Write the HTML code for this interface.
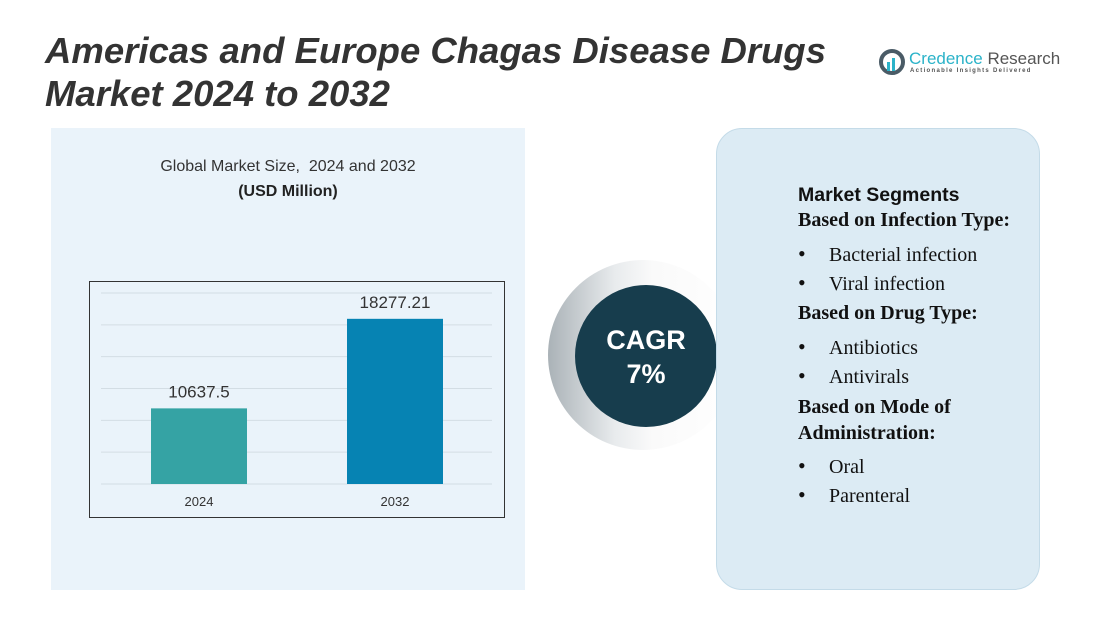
<!DOCTYPE html>
<html><head><meta charset="utf-8">
<style>
body{margin:0;width:1101px;height:637px;background:#fff;position:relative;overflow:hidden;font-family:"Liberation Sans",sans-serif}
.abs{position:absolute}
.seg{position:absolute;left:798px;font-family:"Liberation Serif",serif;font-size:20px;color:#111;white-space:nowrap;line-height:24px}
.b{font-weight:bold}
.li{left:798px}
.li span.dot{display:inline-block;width:31px;font-size:22px}
</style></head><body>
<div class="abs" style="left:45px;top:29px;font-size:36.5px;font-weight:bold;font-style:italic;color:#333;line-height:43px;white-space:nowrap">Americas and Europe Chagas Disease Drugs<br>Market 2024 to 2032</div>
<div class="abs" style="left:878px;top:46px;width:180px;height:32px">
 <svg width="30" height="30" class="abs" style="left:0;top:0"><circle cx="14" cy="16" r="11" fill="none" stroke="#4a5b66" stroke-width="4"/><rect x="9" y="16" width="3" height="9" fill="#2bb3c9"/><rect x="14" y="12" width="3" height="13" fill="#2bb3c9"/></svg>
 <div class="abs" style="left:31px;top:3px;font-size:17px;color:#555;white-space:nowrap"><span style="color:#2bb3c9">Credence</span> Research</div>
 <div class="abs" style="left:32px;top:22px;font-size:6px;letter-spacing:1.3px;color:#555;white-space:nowrap;font-weight:bold">Actionable Insights Delivered</div>
</div>
<div class="abs" style="left:51px;top:128px;width:474px;height:462px;background:#eaf3fa"></div>
<div class="abs" style="left:51px;top:158px;width:474px;text-align:center;font-size:16px;color:#333">Global Market Size,&nbsp; 2024 and 2032</div>
<div class="abs" style="left:51px;top:183px;width:474px;text-align:center;font-size:16px;font-weight:bold;color:#222">(USD Million)</div>
<svg class="abs" style="left:0;top:0" width="1101" height="637" id="chart">
 <rect x="89.5" y="281.5" width="415" height="236" fill="none" stroke="#333" stroke-width="1"/>
</svg>
<div class="abs" style="left:548px;top:260px;width:190px;height:190px;border-radius:50%;background:linear-gradient(90deg,#aab2b7,#e8ebed 35%,#fafafa 55%,#fff)"></div>
<div class="abs" style="left:575px;top:285px;width:142px;height:142px;border-radius:50%;background:#173d4d;color:#fff;text-align:center;font-weight:bold;font-size:27px;line-height:34px;box-sizing:border-box;padding-top:38px">CAGR<br>7%</div>
<div class="abs" style="left:716px;top:128px;width:324px;height:462px;background:#dcebf4;border:1px solid #c4dbe8;border-radius:26px;box-sizing:border-box"></div>
<div class="seg" style="top:183px;font-family:'Liberation Sans',sans-serif;font-weight:bold;font-size:19.5px">Market Segments</div>
<div class="seg b" style="top:208px">Based on Infection Type:</div>
<div class="seg li" style="top:242px"><span class="dot">•</span>Bacterial infection</div>
<div class="seg li" style="top:271px"><span class="dot">•</span>Viral infection</div>
<div class="seg b" style="top:301px">Based on Drug Type:</div>
<div class="seg li" style="top:335px"><span class="dot">•</span>Antibiotics</div>
<div class="seg li" style="top:364px"><span class="dot">•</span>Antivirals</div>
<div class="seg b" style="top:394px;line-height:26px">Based on Mode of<br>Administration:</div>
<div class="seg li" style="top:454px"><span class="dot">•</span>Oral</div>
<div class="seg li" style="top:483px"><span class="dot">•</span>Parenteral</div>
<script>
const categories=["2024","2032"];
const values=[10637.5,18277.21];
const valueLabels=["10637.5","18277.21"];
const colors=["#35a3a4","#0683b3"];
const svg=document.getElementById('chart');
const NS="http://www.w3.org/2000/svg";
const yMin=4186,yMax=20480,baseY=484,topY=293;
function y(v){return baseY-(v-yMin)/(yMax-yMin)*(baseY-topY);}
function x(i){return 151+i*196;}
const bw=96;
for(let g=0;g<=6;g++){const gy=baseY-g*(baseY-topY)/6;const l=document.createElementNS(NS,'line');


l.setAttribute('x1',101);l.setAttribute('x2',492);l.setAttribute('y1',gy);l.setAttribute('y2',gy);l.setAttribute('stroke','#d3dde4');svg.appendChild(l);}
categories.forEach((c,i)=>{
 const r=document.createElementNS(NS,'rect');
 
 
 r.setAttribute('x',x(i));r.setAttribute('width',bw);r.setAttribute('y',y(values[i]));r.setAttribute('height',baseY-y(values[i]));r.setAttribute('fill',colors[i]);svg.appendChild(r);
 const t=document.createElementNS(NS,'text');
 
 
 t.setAttribute('x',x(i)+bw/2);t.setAttribute('y',y(values[i])-11);t.setAttribute('text-anchor','middle');t.setAttribute('font-size','17');t.setAttribute('fill','#333');t.textContent=valueLabels[i];svg.appendChild(t);
 const a=document.createElementNS(NS,'text');
 
 
 a.setAttribute('x',x(i)+bw/2);a.setAttribute('y',506);a.setAttribute('text-anchor','middle');a.setAttribute('font-size','13');a.setAttribute('fill','#333');a.textContent=c;svg.appendChild(a);
});
</script>
</body></html>
